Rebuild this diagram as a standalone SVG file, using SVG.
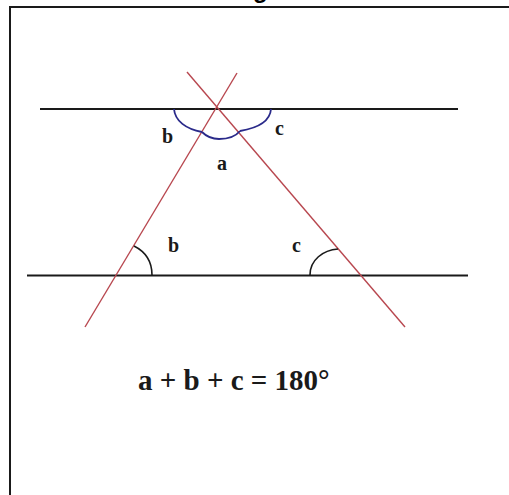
<svg xmlns="http://www.w3.org/2000/svg" width="509" height="495" viewBox="0 0 509 495">
<style>
.blk{stroke:#1a1a1a;stroke-width:2;fill:none}
.red{stroke:#b8474f;stroke-width:1.4;fill:none}
.blue{stroke:#2a2a8a;stroke-width:1.8;fill:none}
.ang{stroke:#1a1a1a;stroke-width:1.6;fill:none}
.lbl{font-family:"Liberation Serif","Times New Roman",serif;font-weight:bold;fill:#1a1a1a}
</style>
<rect width="509" height="495" fill="#ffffff"/>
<text x="253" y="-2" font-family="Liberation Sans, Arial, sans-serif" font-weight="bold" font-size="24" fill="#000">g</text>
<path class="blk" d="M10,495 V7 H509"/>
<g id="parallels">
<line class="blk" x1="40" y1="109" x2="458" y2="109"/>
<line class="blk" x1="27" y1="275.5" x2="468" y2="275.5"/>
</g>
<g id="transversals">
<line class="red" x1="237" y1="73" x2="85" y2="327"/>
<line class="red" x1="187" y1="72" x2="405" y2="327"/>
</g>
<g id="top-angles">
<path class="blue" d="M174,109 C175,121 186,129 202,132"/>
<path class="blue" d="M202,132 C207,137 212,139 219,139 C229,139 236,136 240,131"/>
<path class="blue" d="M240,131 C258,128 270,122 271,109"/>
</g>
<g id="bottom-angles">
<path class="ang" d="M134,246 C144,251 152,259 152,275"/>
<path class="ang" d="M310,275 C310,260 323,250 338,249"/>
</g>
<g id="labels">
<text class="lbl" x="162" y="143" font-size="20">b</text>
<text class="lbl" x="275" y="135" font-size="20">c</text>
<text class="lbl" x="217" y="170" font-size="20">a</text>
<text class="lbl" x="168" y="252" font-size="20">b</text>
<text class="lbl" x="292" y="252" font-size="20">c</text>
<text class="lbl" x="138" y="390" font-size="29">a + b + c = 180°</text>
</g>
</svg>
